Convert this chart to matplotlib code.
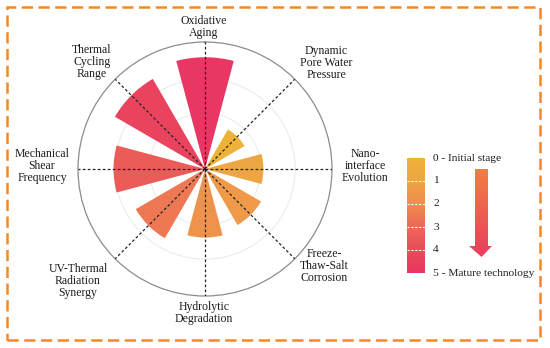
import numpy as np
import matplotlib
matplotlib.use("Agg")
import matplotlib.pyplot as plt
from matplotlib.colors import LinearSegmentedColormap, Normalize
from matplotlib.patches import Rectangle, Polygon

# data
categories = ["Oxidative\nAging", "Dynamic\nPore Water\nPressure", "Nano-\ninterface\nEvolution",
              "Freeze-\nThaw-Salt\nCorrosion", "Hydrolytic\nDegradation",
              "UV-Thermal\nRadiation\nSynergy", "Mechanical\nShear\nFrequency",
              "Thermal\nCycling\nRange"]
scores = [0.88, 0.36, 0.46, 0.51, 0.54, 0.63, 0.72, 0.82]
levels = [0, 1, 2, 3, 4, 5]
level_labels = ["0 - Initial stage", "1", "2", "3", "4", "5 - Mature technology"]

# layout (pixels of the 550x348 canvas)
W, H = 550, 348
label_xy = [(204, 27), (326, 63), (365, 166), (324, 266), (204, 313), (78, 281), (42, 166), (92, 62)]

plt.rcParams['font.family'] = ['Liberation Serif', 'DejaVu Serif']
fig = plt.figure(figsize=(W / 100, H / 100), dpi=100)

cmap = LinearSegmentedColormap.from_list(
    "maturity", ["#EEB238", "#EEA545", "#F08C4E", "#EC6A56", "#E94C5B", "#EA3662"])
arrow_cmap = LinearSegmentedColormap.from_list("arrow", ["#F07F42", "#EA3D5F"])


def px(x0, y0, w, h):
    return [x0 / W, 1 - (y0 + h) / H, w / W, h / H]


# polar bar chart
cx, cy, R = 205, 169, 127
ax = fig.add_axes(px(cx - R, cy - R, 2 * R, 2 * R), projection="polar")
ax.set_theta_zero_location("N")
ax.set_theta_direction(-1)
ax.set_axisbelow(True)
theta = np.arange(len(categories)) * 2 * np.pi / len(categories)
norm = Normalize(min(scores), max(scores))
ax.bar(theta, scores, width=0.52, color=cmap(norm(np.array(scores))), zorder=2)
for t in theta:
    ax.plot([t, t], [0, 1], ls=(0, (2.2, 1.8)), color="#222222", lw=0.9, zorder=3)
ax.set_ylim(0, 1)
ax.set_yticks([0.44, 0.71])
ax.set_yticklabels([])
ax.set_xticks([])
ax.yaxis.grid(True, color="#EBEBEB", lw=0.8)
ax.spines["polar"].set_color("#8C8C8C")
ax.spines["polar"].set_linewidth(0.9)

for lab, (x, y) in zip(categories, label_xy):
    fig.text(x / W, 1 - y / H, lab, ha="center", va="center", fontsize=8.5,
             linespacing=1.05, color="#1E1E1E")

# level legend bar
lax = fig.add_axes(px(407, 158, 18, 115))
grad = np.linspace(0, 1, 256).reshape(-1, 1)
lax.imshow(grad, cmap=cmap, aspect="auto", extent=(0, 1, levels[-1], levels[0]))
for lv in levels[1:-1]:
    lax.axhline(lv, color="white", ls=(0, (2, 1.5)), lw=0.8)
lax.set_xlim(0, 1)
lax.set_ylim(levels[-1], levels[0])
lax.axis("off")
step = 115 / (len(levels) - 1)
for i, lab in enumerate(level_labels):
    fig.text(433 / W, 1 - (158 + step * i) / H, lab, ha="left", va="center",
             fontsize=8.2, color="#1E1E1E")

# gradient arrow
aax = fig.add_axes(px(466, 166, 30, 94))
aax.set_xlim(0, 30)
aax.set_ylim(94, 0)
arrow = Polygon([(9, 3), (22, 3), (22, 80), (26, 80), (15.5, 91), (3, 80), (9, 80)],
                closed=True, transform=aax.transData, fc="none", ec="none")
aax.add_patch(arrow)
img = aax.imshow(grad, cmap=arrow_cmap, aspect="auto", extent=(0, 30, 91, 3))
img.set_clip_path(arrow)
aax.set_xlim(0, 30)
aax.set_ylim(94, 0)
aax.axis("off")

# dashed frame
fig.add_artist(Rectangle((7 / W, 1 - 340 / H), 533 / W, 333 / H, transform=fig.transFigure,
                         fill=False, ec="#F28A24", lw=1.8, ls=(0, (4.5, 2.2))))

fig.savefig("out.png", dpi=100)
